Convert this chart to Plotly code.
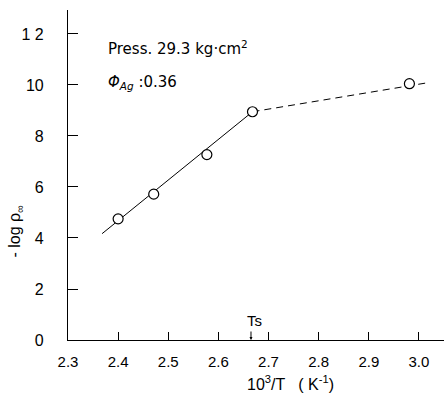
import plotly.graph_objects as go

# data points (10^3/T, -log rho)
x_pts = [2.40, 2.471, 2.577, 2.668, 2.981]
y_pts = [4.75, 5.72, 7.27, 8.95, 10.05]

# solid fitted line
fit_x = [2.368, 2.668]
fit_y = [4.17, 8.95]
# dashed extension
ext_x = [2.668, 3.015]
ext_y = [8.95, 10.08]

x_ticks = [2.3, 2.4, 2.5, 2.6, 2.7, 2.8, 2.9, 3.0]
x_tick_labels = ["2.3", "2.4", "2.5", "2.6", "2.7", "2.8", "2.9", "3.0"]
y_ticks = [0, 2, 4, 6, 8, 10, 12]
y_tick_labels = ["0", "2", "4", "6", "8", "10", "1 2"]

ts_x = 2.665

FONT = "Liberation Sans, Arial, sans-serif"
TXT = "DejaVu Sans, Liberation Sans, sans-serif"

fig = go.Figure()
fig.add_trace(go.Scatter(x=fit_x, y=fit_y, mode="lines",
                         line=dict(color="black", width=1), showlegend=False))
fig.add_trace(go.Scatter(x=ext_x, y=ext_y, mode="lines",
                         line=dict(color="black", width=1, dash="7px,5px"), showlegend=False))
fig.add_trace(go.Scatter(x=x_pts, y=y_pts, mode="markers",
                         marker=dict(symbol="circle", size=10, color="white",
                                     line=dict(color="black", width=1.2)),
                         showlegend=False))

fig.update_layout(
    width=444, height=394,
    margin=dict(l=68, r=0, t=10, b=54),
    paper_bgcolor="white", plot_bgcolor="white",
    font=dict(family=FONT, size=15, color="black"),
    xaxis=dict(range=[2.3, 3.05], tickvals=x_ticks, ticktext=x_tick_labels,
               ticks="inside", ticklen=8, tickcolor="black", showgrid=False,
               zeroline=False, showline=True, linecolor="black", linewidth=1.2,
               tickfont=dict(size=15), ticklabelstandoff=8),
    yaxis=dict(range=[0, 12.94], tickvals=y_ticks, ticktext=y_tick_labels,
               ticks="inside", ticklen=10, tickcolor="black", showgrid=False,
               zeroline=False, showline=True, linecolor="black", linewidth=1.2,
               tickfont=dict(size=16), ticklabelstandoff=20),
    annotations=[
        dict(x=2.375, y=11.45, xref="x", yref="y", xanchor="left", yanchor="middle",
             text="Press. 29.3 kg·cm<sup>2</sup>", showarrow=False,
             font=dict(family=TXT, size=15)),
        dict(x=2.375, y=10.1, xref="x", yref="y", xanchor="left", yanchor="middle",
             text="<i>Φ</i><sub><i>Ag</i></sub> :0.36", showarrow=False,
             font=dict(family=TXT, size=15)),
        dict(x=ts_x, y=0, xref="x", yref="y", ax=0, ay=-10, text="",
             showarrow=True, arrowhead=2, arrowsize=0.6, arrowwidth=1, arrowcolor="black"),
        dict(x=ts_x, y=0, xref="x", yref="y", text="Ts", showarrow=False,
             xanchor="center", yanchor="bottom", xshift=4, yshift=9, font=dict(size=15)),
        dict(x=-0.14, y=0.33, xref="paper", yref="paper", xanchor="center", yanchor="middle",
             text="- log ρ<sub>∞</sub>", textangle=-90, showarrow=False, font=dict(size=16)),
        dict(x=0.593, y=-0.13, xref="paper", yref="paper", xanchor="center", yanchor="middle",
             text="10<sup>3</sup>/T   ( K<sup>-1</sup>)", showarrow=False, font=dict(size=16)),
    ],
)

fig.write_html("out.html")
